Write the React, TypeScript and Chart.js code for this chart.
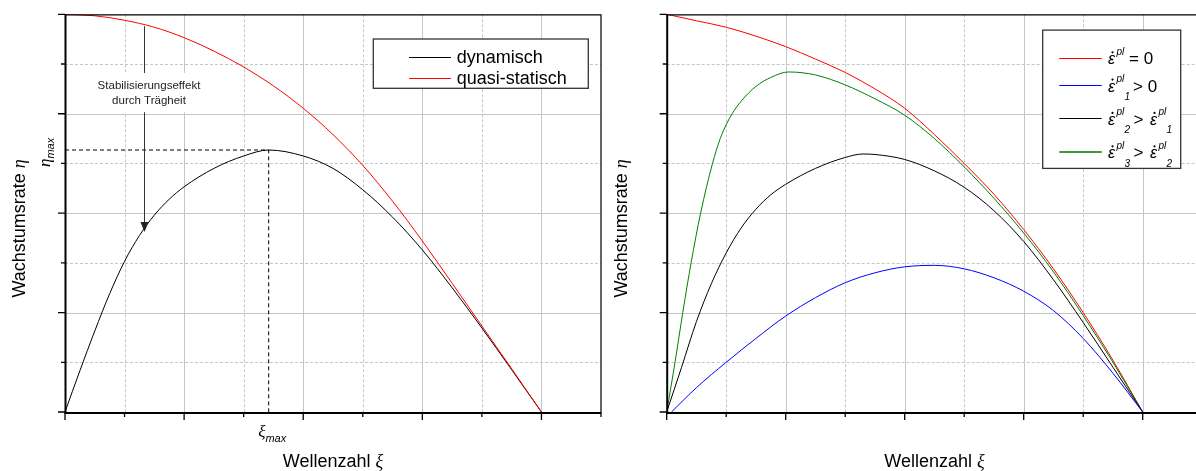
import React, { useEffect, useRef } from 'react';
import { Chart, registerables } from 'chart.js';

Chart.register(...registerables);

// ---------- axis ticks (no numeric labels in the original) ----------
const XI_TICKS = [0, 1, 2, 3, 4, 5, 6, 7, 8, 9];
const ETA_TICKS = [0, 1, 2, 3, 4, 5, 6, 7, 8];

// ---------- left chart: dynamisch vs quasi-statisch ----------
const L_QUASI_XI = [0, 0.5, 1, 1.5, 2, 2.5, 3, 3.5, 4, 4.5, 5, 5.5, 6, 6.5, 7, 7.5, 8];
const L_QUASI_ETA = [8, 7.97, 7.88, 7.74, 7.53, 7.26, 6.94, 6.56, 6.11, 5.58, 4.96, 4.24, 3.44, 2.59, 1.73, 0.87, 0];
const L_DYN_XI = [0, 0.25, 0.5, 0.75, 1, 1.25, 1.5, 1.75, 2, 2.5, 3, 3.42, 4, 4.5, 5, 5.5, 6, 6.5, 7, 7.5, 8];
const L_DYN_ETA = [0, 0.83, 1.63, 2.38, 3.03, 3.55, 3.96, 4.28, 4.53, 4.9, 5.15, 5.27, 5.15, 4.9, 4.47, 3.92, 3.26, 2.5, 1.69, 0.85, 0];
const XI_MAX = 3.42;
const ETA_MAX = 5.27;
const GUIDE_XI = [0, XI_MAX, XI_MAX];
const GUIDE_ETA = [ETA_MAX, ETA_MAX, 0];
const LEFT_LABELS = ['dynamisch', 'quasi-statisch'];
const NOTE_LINES = ['Stabilisierungseffekt', 'durch Trägheit'];
const ARROW_XI = 1.33;
const ARROW_FROM = 7.76;
const ARROW_TO = 3.62;
const NOTE_XI = 1.41;
const NOTE_ETA = [6.56, 6.26];
const NOTE_BOX_ETA = [6.82, 6.03];

// ---------- right chart: plastic strain rate variants ----------
const R_ZERO_XI = [0, 0.5, 1, 1.5, 2, 2.5, 3, 3.5, 4, 4.5, 5, 5.5, 6, 6.5, 7, 7.5, 8];
const R_ZERO_ETA = [8, 7.87, 7.74, 7.56, 7.35, 7.1, 6.83, 6.5, 6.11, 5.58, 5.0, 4.38, 3.67, 2.88, 2.0, 1.04, 0];
const R_E1_XI = [0.08, 0.5, 1, 1.5, 2, 2.5, 3, 3.5, 4, 4.5, 5, 5.5, 6, 6.5, 7, 7.5, 8];
const R_E1_ETA = [0, 0.49, 1.0, 1.48, 1.93, 2.3, 2.6, 2.8, 2.92, 2.95, 2.88, 2.7, 2.43, 2.04, 1.48, 0.78, 0];
const R_E2_XI = [0, 0.25, 0.5, 0.75, 1, 1.25, 1.5, 1.75, 2, 2.5, 3, 3.3, 3.5, 4, 4.5, 5, 5.5, 6, 6.5, 7, 7.5, 8];
const R_E2_ETA = [0, 0.9, 1.82, 2.58, 3.2, 3.7, 4.08, 4.37, 4.58, 4.9, 5.12, 5.19, 5.18, 5.08, 4.85, 4.52, 4.05, 3.43, 2.66, 1.8, 0.9, 0];
const R_E3_XI = [0, 0.14, 0.27, 0.41, 0.57, 0.77, 0.9, 1.0, 1.1, 1.25, 1.5, 1.75, 2.05, 2.5, 3, 3.5, 4, 4.5, 5, 5.5, 6, 6.5, 7, 7.5, 8];
const R_E3_ETA = [0, 1, 2, 3, 4, 5, 5.5, 5.78, 6.0, 6.25, 6.55, 6.73, 6.84, 6.78, 6.58, 6.3, 5.97, 5.5, 4.93, 4.3, 3.6, 2.82, 1.94, 1.0, 0];

const SANS = '"Liberation Sans", Arial, sans-serif';
const SERIF = '"Liberation Serif", "Times New Roman", serif';
const GRID_COLOR = '#c6c6c6';
const RED = '#ff0000';
const BLUE = '#0000ff';
const BLACK = '#000000';
const GREEN = '#008000';

function pts(xs: number[], ys: number[]) {
  return xs.map((x, i) => ({ x, y: ys[i] }));
}

function curve(xs: number[], ys: number[], color: string, extra: any = {}) {
  return {
    data: pts(xs, ys),
    borderColor: color,
    backgroundColor: color,
    borderWidth: 1,
    pointRadius: 0,
    fill: false,
    cubicInterpolationMode: 'monotone',
    ...extra,
  };
}

const crisp = (v: number) => Math.round(v) + 0.5;

const gridPlugin = {
  id: 'customGrid',
  beforeDatasetsDraw(chart: any) {
    const { ctx, chartArea: a, scales } = chart;
    const sx = scales.x, sy = scales.y;
    ctx.save();
    ctx.lineWidth = 1;
    ctx.strokeStyle = GRID_COLOR;
    for (const v of XI_TICKS) {
      if (v === XI_TICKS[0] || v === XI_TICKS[XI_TICKS.length - 1]) continue;
      const p = crisp(sx.getPixelForValue(v));
      ctx.setLineDash(v % 2 === 0 ? [] : [3, 2]);
      ctx.beginPath();
      ctx.moveTo(p, a.top);
      ctx.lineTo(p, a.bottom);
      ctx.stroke();
    }
    for (const v of ETA_TICKS) {
      if (v === ETA_TICKS[0] || v === ETA_TICKS[ETA_TICKS.length - 1]) continue;
      const p = crisp(sy.getPixelForValue(v));
      ctx.setLineDash(v % 2 === 0 ? [] : [3, 2]);
      ctx.beginPath();
      ctx.moveTo(a.left, p);
      ctx.lineTo(a.right, p);
      ctx.stroke();
    }
    ctx.restore();
  },
};

function drawMixed(ctx: any, parts: { t: string; font: string; dy?: number }[], x: number, y: number) {
  let cx = x;
  for (const p of parts) {
    ctx.font = p.font;
    ctx.fillText(p.t, cx, y + (p.dy || 0));
    cx += ctx.measureText(p.t).width;
  }
  return cx;
}

function measureMixed(ctx: any, parts: { t: string; font: string }[]) {
  let w = 0;
  for (const p of parts) {
    ctx.font = p.font;
    w += ctx.measureText(p.t).width;
  }
  return w;
}

const framePlugin = {
  id: 'frame',
  afterDatasetsDraw(chart: any) {
    const { ctx, chartArea: a, scales } = chart;
    const sx = scales.x, sy = scales.y;
    ctx.save();
    ctx.strokeStyle = '#000';
    ctx.setLineDash([]);
    ctx.lineWidth = 1.2;
    ctx.beginPath();
    ctx.moveTo(a.left, a.top + 0.5);
    ctx.lineTo(a.right, a.top + 0.5);
    ctx.moveTo(a.right, a.top);
    ctx.lineTo(a.right, a.bottom);
    ctx.stroke();
    ctx.lineWidth = 2;
    ctx.beginPath();
    ctx.moveTo(a.left + 0.5, a.top);
    ctx.lineTo(a.left + 0.5, a.bottom + 1);
    ctx.moveTo(a.left - 0.5, a.bottom + 1);
    ctx.lineTo(a.right, a.bottom + 1);
    ctx.stroke();
    ctx.lineWidth = 1.3;
    ctx.beginPath();
    for (const v of ETA_TICKS) {
      const p = sy.getPixelForValue(v);
      const len = v % 2 === 0 ? 7 : 4;
      ctx.moveTo(a.left - len, p);
      ctx.lineTo(a.left, p);
    }
    for (const v of XI_TICKS) {
      const p = sx.getPixelForValue(v);
      const len = v % 2 === 0 ? 7 : 4;
      ctx.moveTo(p, a.bottom);
      ctx.lineTo(p, a.bottom + 1 + len);
    }
    ctx.stroke();

    ctx.fillStyle = '#000';
    ctx.textBaseline = 'alphabetic';
    ctx.textAlign = 'left';
    const xParts = [
      { t: 'Wellenzahl ', font: `18px ${SANS}` },
      { t: 'ξ', font: `italic 18px ${SERIF}` },
    ];
    const xw = measureMixed(ctx, xParts);
    drawMixed(ctx, xParts, (a.left + a.right) / 2 - xw / 2, 467);

    ctx.save();
    ctx.translate(a.left - 40, 297.5);
    ctx.rotate(-Math.PI / 2);
    drawMixed(ctx, [
      { t: 'Wachstumsrate ', font: `18px ${SANS}` },
      { t: 'η', font: `italic 18px ${SERIF}` },
    ], 0, 0);
    ctx.restore();
    ctx.restore();
  },
};

const leftExtras = {
  id: 'leftExtras',
  afterDraw(chart: any) {
    const { ctx, chartArea: a, scales } = chart;
    const sx = scales.x, sy = scales.y;
    ctx.save();
    ctx.fillStyle = '#000';
    ctx.textAlign = 'left';
    ctx.textBaseline = 'alphabetic';

    const xm = sx.getPixelForValue(XI_MAX);
    drawMixed(ctx, [
      { t: 'ξ', font: `italic 17px ${SERIF}` },
      { t: 'max', font: `italic 11px ${SANS}`, dy: 5 },
    ], xm - 10.5, 437);

    const ym = sy.getPixelForValue(ETA_MAX);
    ctx.save();
    ctx.translate(a.left - 15, ym + 17);
    ctx.rotate(-Math.PI / 2);
    drawMixed(ctx, [
      { t: 'η', font: `italic 17px ${SERIF}` },
      { t: 'max', font: `italic 11px ${SANS}`, dy: 3.5 },
    ], 0, 0);
    ctx.restore();

    const ax = sx.getPixelForValue(ARROW_XI);
    const ay1 = sy.getPixelForValue(ARROW_FROM);
    const ay2 = sy.getPixelForValue(ARROW_TO);
    const bx = sx.getPixelForValue(NOTE_XI);
    const by1 = sy.getPixelForValue(NOTE_BOX_ETA[0]);
    const by2 = sy.getPixelForValue(NOTE_BOX_ETA[1]);
    ctx.fillStyle = '#fff';
    ctx.fillRect(bx - 56, by1, 112, by2 - by1);
    ctx.strokeStyle = '#333';
    ctx.fillStyle = '#222';
    ctx.lineWidth = 1;
    ctx.beginPath();
    ctx.moveTo(crisp(ax), ay1);
    ctx.lineTo(crisp(ax), by1);
    ctx.moveTo(crisp(ax), by2);
    ctx.lineTo(crisp(ax), ay2 - 9);
    ctx.stroke();
    ctx.beginPath();
    ctx.moveTo(crisp(ax), ay2);
    ctx.lineTo(crisp(ax) - 4, ay2 - 10);
    ctx.lineTo(crisp(ax) + 4, ay2 - 10);
    ctx.closePath();
    ctx.fill();
    ctx.font = `11.5px ${SANS}`;
    ctx.textAlign = 'center';
    ctx.textBaseline = 'middle';
    NOTE_LINES.forEach((t, i) => ctx.fillText(t, bx, sy.getPixelForValue(NOTE_ETA[i])));

    const bw = 215, bh = 49.3;
    const lx = a.right - 12.7 - bw;
    const ly = a.top + 24.7;
    ctx.fillStyle = '#fff';
    ctx.fillRect(lx, ly, bw, bh);
    ctx.strokeStyle = '#333';
    ctx.lineWidth = 1.3;
    ctx.strokeRect(lx, ly, bw, bh);
    const colors = [BLACK, RED];
    const rows = [17.7, 38.7];
    ctx.textAlign = 'left';
    ctx.textBaseline = 'alphabetic';
    ctx.font = `18px ${SANS}`;
    LEFT_LABELS.forEach((t, i) => {
      const yy = ly + rows[i];
      ctx.strokeStyle = colors[i];
      ctx.lineWidth = 1;
      ctx.beginPath();
      ctx.moveTo(lx + 35.7, crisp(yy));
      ctx.lineTo(lx + 77.7, crisp(yy));
      ctx.stroke();
      ctx.fillStyle = '#000';
      ctx.fillText(t, lx + 83.4, yy + 6);
    });
    ctx.restore();
  },
};

function drawEps(ctx: any, x: number, base: number, sub?: string) {
  ctx.font = `italic 16px ${SANS}`;
  ctx.fillText('ε', x, base);
  ctx.beginPath();
  ctx.arc(x + 4.5, base - 12, 1.1, 0, Math.PI * 2);
  ctx.fill();
  ctx.font = `italic 10px ${SANS}`;
  ctx.fillText('pl', x + 8.5, base - 9.5);
  if (sub) ctx.fillText(sub, x + 16.5, base + 8.5);
}

const rightExtras = {
  id: 'rightExtras',
  afterDraw(chart: any) {
    const { ctx, chartArea: a } = chart;
    ctx.save();
    const bw = 138, bh = 138.3;
    const lx = a.right - 21.5 - bw;
    const ly = a.top + 15.8;
    ctx.fillStyle = '#fff';
    ctx.fillRect(lx, ly, bw, bh);
    ctx.strokeStyle = '#333';
    ctx.lineWidth = 1.3;
    ctx.strokeRect(lx, ly, bw, bh);
    const rows = [27.7, 55, 88.3, 121.7];
    const colors = [RED, BLUE, BLACK, '#3f9a3f'];
    const widths = [1, 1, 1, 2];
    const x0 = lx + 65.3;
    ctx.textAlign = 'left';
    ctx.textBaseline = 'alphabetic';
    rows.forEach((r, i) => {
      const yy = ly + r;
      ctx.strokeStyle = colors[i];
      ctx.lineWidth = widths[i];
      ctx.beginPath();
      const yl = widths[i] === 1 ? crisp(yy) : Math.round(yy);
      ctx.moveTo(lx + 16.6, yl);
      ctx.lineTo(lx + 59, yl);
      ctx.stroke();
      ctx.fillStyle = '#000';
      const base = yy + 6.5;
      if (i === 0) {
        drawEps(ctx, x0, base);
        ctx.font = `17px ${SANS}`;
        ctx.fillText('= 0', x0 + 21, base);
      } else if (i === 1) {
        drawEps(ctx, x0, base, '1');
        ctx.font = `17px ${SANS}`;
        ctx.fillText('> 0', x0 + 25, base);
      } else {
        drawEps(ctx, x0, base, i === 2 ? '2' : '3');
        ctx.font = `17px ${SANS}`;
        ctx.fillText('>', x0 + 25.5, base);
        drawEps(ctx, x0 + 42, base, i === 2 ? '1' : '2');
      }
    });
    ctx.restore();
  },
};

function baseOptions(padLeft: number, padRight: number) {
  return {
    animation: false,
    responsive: false,
    maintainAspectRatio: false,
    devicePixelRatio: 1,
    events: [],
    layout: { padding: { left: padLeft, right: padRight, top: 14.3, bottom: 59 } },
    scales: {
      x: { type: 'linear', min: XI_TICKS[0], max: XI_TICKS[XI_TICKS.length - 1], display: false },
      y: { type: 'linear', min: ETA_TICKS[0], max: ETA_TICKS[ETA_TICKS.length - 1], display: false },
    },
    plugins: { legend: { display: false }, tooltip: { enabled: false } },
  };
}

function leftConfig(): any {
  return {
    type: 'line',
    data: {
      datasets: [
        curve(GUIDE_XI, GUIDE_ETA, BLACK, { cubicInterpolationMode: 'default', tension: 0, borderDash: [4, 3] }),
        curve(L_QUASI_XI, L_QUASI_ETA, RED),
        curve(L_DYN_XI, L_DYN_ETA, BLACK),
      ],
    },
    options: baseOptions(65, 9),
    plugins: [gridPlugin, framePlugin, leftExtras],
  };
}

function rightConfig(): any {
  return {
    type: 'line',
    data: {
      datasets: [
        curve(R_E1_XI, R_E1_ETA, BLUE),
        curve(R_E2_XI, R_E2_ETA, BLACK),
        curve(R_E3_XI, R_E3_ETA, GREEN),
        curve(R_ZERO_XI, R_ZERO_ETA, RED),
      ],
    },
    options: baseOptions(66.7, 9.8),
    plugins: [gridPlugin, framePlugin, rightExtras],
  };
}

function ChartCanvas({ left, width, height, make }: { left: number; width: number; height: number; make: () => any }) {
  const ref = useRef<HTMLCanvasElement | null>(null);
  useEffect(() => {
    if (!ref.current) return;
    const chart = new Chart(ref.current, make());
    return () => chart.destroy();
  }, []);
  return (
    <canvas
      ref={ref}
      width={width}
      height={height}
      style={{ position: 'absolute', left, top: 0, width, height, display: 'block' }}
    />
  );
}

export default function App() {
  return (
    <div
      style={{
        position: 'absolute',
        left: 0,
        top: 0,
        width: 1196,
        height: 471,
        overflow: 'hidden',
        background: '#fff',
      }}
    >
      <ChartCanvas left={0} width={610} height={471} make={leftConfig} />
      <ChartCanvas left={600} width={612} height={471} make={rightConfig} />
    </div>
  );
}
